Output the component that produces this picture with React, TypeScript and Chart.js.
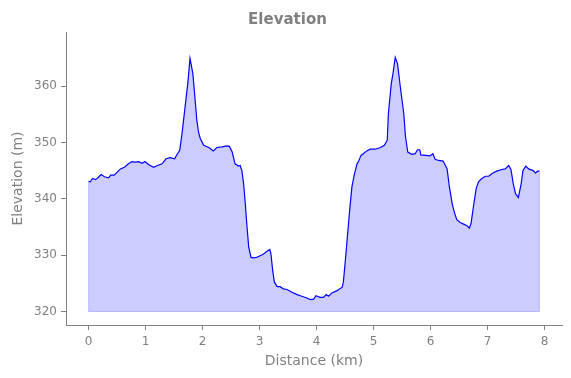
import React, { useEffect, useRef } from "react";
import { Chart, registerables } from "chart.js";

Chart.register(...registerables);

const distanceKm: number[] = [
  0, 0.03, 0.07, 0.12, 0.16, 0.22, 0.28, 0.35, 0.39, 0.45, 0.5, 0.56, 0.63, 0.7, 0.76, 0.82, 0.88, 0.94, 0.99,
  1.05, 1.14, 1.21, 1.29, 1.36, 1.43, 1.51, 1.56, 1.6, 1.64, 1.7, 1.74, 1.78, 1.83, 1.87, 1.9, 1.93, 1.96,
  2.02, 2.11, 2.19, 2.25, 2.34, 2.43, 2.47, 2.52, 2.57, 2.63, 2.66, 2.69, 2.72, 2.75, 2.78, 2.81, 2.85, 2.89,
  2.95, 3.01, 3.07, 3.13, 3.18, 3.2, 3.23, 3.26, 3.31, 3.36, 3.42, 3.48, 3.57, 3.66, 3.74, 3.83, 3.89, 3.95,
  3.99, 4.06, 4.12, 4.17, 4.21, 4.27, 4.36, 4.45, 4.47, 4.5, 4.53, 4.58, 4.62, 4.66, 4.71, 4.74, 4.78, 4.82,
  4.88, 4.94, 5.03, 5.12, 5.19, 5.24, 5.26, 5.31, 5.34, 5.38, 5.42, 5.47, 5.53, 5.56, 5.6, 5.67, 5.73, 5.77,
  5.81, 5.83, 5.91, 5.99, 6.04, 6.08, 6.14, 6.22, 6.29, 6.33, 6.38, 6.42, 6.46, 6.52, 6.58, 6.64, 6.68, 6.71,
  6.75, 6.8, 6.84, 6.9, 6.96, 7.02, 7.08, 7.16, 7.25, 7.31, 7.37, 7.41, 7.45, 7.49, 7.54, 7.59, 7.62, 7.67,
  7.72, 7.8, 7.84, 7.88, 7.91,
];

const elevationM: number[] = [
  343.1, 343.0, 343.6, 343.4, 343.7, 344.3, 343.9, 343.7, 344.2, 344.2, 344.7, 345.3, 345.6, 346.2, 346.6, 346.5, 346.6, 346.3, 346.6,
  346.1, 345.6, 345.9, 346.2, 347.1, 347.3, 347.1, 348.0, 348.6, 351.6, 356.9, 360.4, 364.9, 362.2, 357.5, 353.9, 351.8, 350.7,
  349.5, 349.1, 348.5, 349.1, 349.2, 349.4, 349.3, 348.3, 346.2, 345.8, 345.9, 345.0, 342.7, 339.1, 335.0, 331.4, 329.6, 329.5,
  329.6, 329.9, 330.2, 330.7, 331.0, 330.2, 327.3, 325.2, 324.4, 324.4, 324.0, 323.9, 323.4, 323.0, 322.7, 322.4, 322.1, 322.2,
  322.8, 322.5, 322.5, 323.0, 322.7, 323.3, 323.7, 324.3, 325.2, 328.5, 332.0, 337.9, 342.1, 344.2, 346.2, 346.7, 347.7, 348.0,
  348.5, 348.8, 348.8, 349.1, 349.5, 350.4, 355.1, 360.4, 362.2, 365.1, 364.0, 359.8, 355.1, 351.0, 348.3, 347.9, 348.0, 348.7,
  348.7, 347.8, 347.7, 347.6, 348.0, 347.0, 346.8, 346.7, 345.3, 342.1, 339.1, 337.5, 336.3, 335.8, 335.5, 335.2, 334.8, 335.6,
  338.5, 341.8, 343.0, 343.6, 344.0, 344.0, 344.5, 344.9, 345.2, 345.3, 345.9, 345.2, 342.7, 340.9, 340.2, 342.7, 345.0, 345.8,
  345.3, 345.0, 344.6, 344.9, 344.9,
];

const baseElevation = 320;
const xTickValues: number[] = [0, 1, 2, 3, 4, 5, 6, 7, 8];
const yTickValues: number[] = [320, 330, 340, 350, 360];

const chartTitle = "Elevation";
const xTitle = "Distance (km)";
const yTitle = "Elevation (m)";

const GRAY = "#808080";
const FONT = "'DejaVu Sans', sans-serif";

export default function App() {
  const canvasRef = useRef<HTMLCanvasElement | null>(null);

  useEffect(() => {
    document.body.style.margin = "0";
    const canvas = canvasRef.current;
    if (!canvas) return;

    const linePoints = distanceKm.map((x, i) => ({ x, y: elevationM[i] }));
    const lastX = distanceKm[distanceKm.length - 1];
    const outline = [
      { x: distanceKm[0], y: elevationM[0] },
      { x: distanceKm[0], y: baseElevation },
      { x: lastX, y: baseElevation },
      { x: lastX, y: elevationM[elevationM.length - 1] },
    ];

    const titlePlugin = {
      id: "customTitle",
      afterDraw(chart: any) {
        const ctx = chart.ctx;
        ctx.save();
        ctx.font = `bold 15px ${FONT}`;
        ctx.fillStyle = GRAY;
        ctx.textAlign = "center";
        ctx.textBaseline = "alphabetic";
        ctx.fillText(chartTitle, 287.5, 23.5);
        ctx.restore();
      },
    };

    const chart = new Chart(canvas, {
      type: "line",
      data: {
        datasets: [
          {
            data: linePoints,
            borderColor: "#0000ff",
            borderWidth: 1.2,
            pointRadius: 0,
            tension: 0,
            fill: { value: baseElevation },
            backgroundColor: "rgba(0,0,255,0.2)",
          },
          {
            data: outline,
            borderColor: "rgba(0,0,255,0.2)",
            borderWidth: 1.2,
            pointRadius: 0,
            tension: 0,
            fill: false,
          },
        ],
      },
      options: {
        animation: false,
        responsive: false,
        maintainAspectRatio: false,
        layout: { padding: { top: 32, right: 9, left: 0, bottom: 0 } },
        plugins: {
          legend: { display: false },
          title: { display: false },
          tooltip: { enabled: false },
        },
        scales: {
          x: {
            type: "linear",
            min: -0.3955,
            max: 8.3055,
            afterBuildTicks: (scale: any) => {
              scale.ticks = xTickValues.map((v) => ({ value: v }));
            },
            afterFit: (scale: any) => {
              scale.height = 53;
            },
            ticks: {
              color: GRAY,
              font: { family: FONT, size: 12 },
              padding: 5,
              maxRotation: 0,
              autoSkip: false,
              callback: (v: any) => String(v),
            },
            grid: {
              display: true,
              drawOnChartArea: false,
              drawTicks: true,
              tickLength: 5,
              color: GRAY,
            },
            border: { display: true, color: GRAY, width: 1 },
            title: {
              display: true,
              text: xTitle,
              color: GRAY,
              font: { family: FONT, size: 14 },
              padding: { top: 2, bottom: 8 },
            },
          },
          y: {
            type: "linear",
            min: 317.6,
            max: 369.6,
            afterBuildTicks: (scale: any) => {
              scale.ticks = yTickValues.map((v) => ({ value: v }));
            },
            afterFit: (scale: any) => {
              scale.width = 66;
            },
            ticks: {
              color: GRAY,
              font: { family: FONT, size: 12 },
              padding: 4,
              autoSkip: false,
              callback: (v: any) => String(v),
            },
            grid: {
              display: true,
              drawOnChartArea: false,
              drawTicks: true,
              tickLength: 5,
              color: GRAY,
            },
            border: { display: true, color: GRAY, width: 1 },
            title: {
              display: true,
              text: yTitle,
              color: GRAY,
              font: { family: FONT, size: 14 },
              padding: { top: 10, bottom: 2 },
            },
          },
        },
      },
      plugins: [titlePlugin],
    });

    return () => {
      chart.destroy();
    };
  }, []);

  return (
    <div style={{ width: 571, height: 378, position: "relative" }}>
      <canvas ref={canvasRef} width={571} height={378} style={{ width: 571, height: 378, display: "block" }} />
    </div>
  );
}
